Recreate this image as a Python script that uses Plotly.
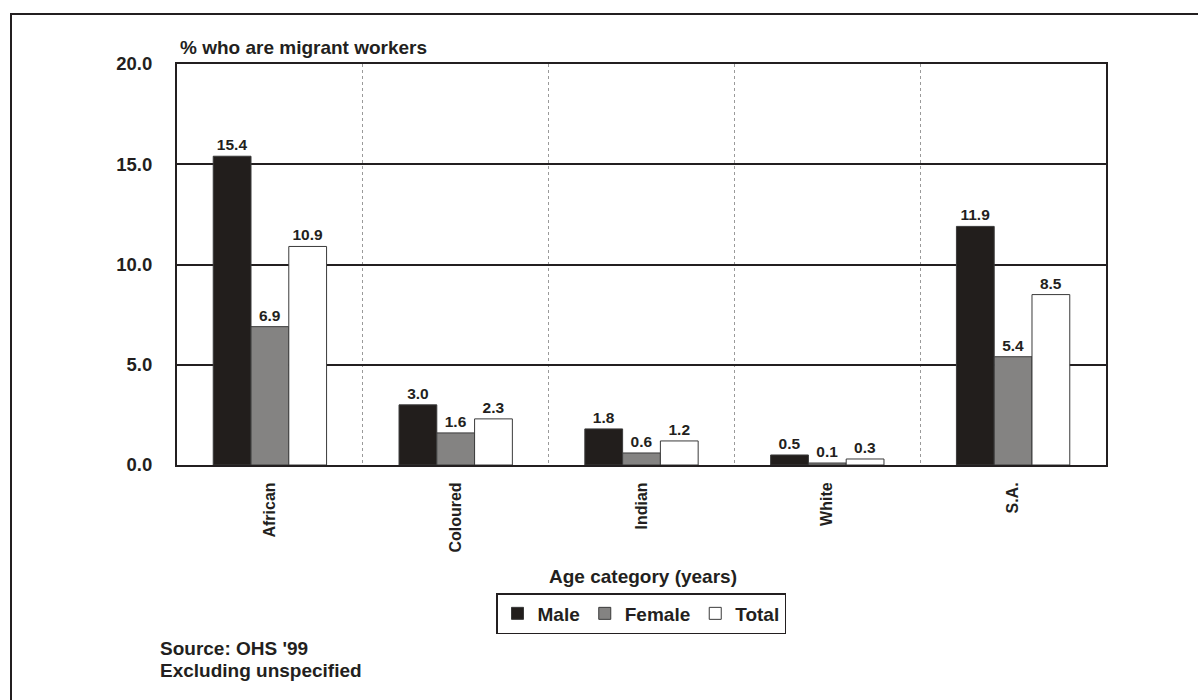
import plotly.graph_objects as go

# Population groups and share of each that are migrant workers (%)
groups = ["African", "Coloured", "Indian", "White", "S.A."]
male = [15.4, 3.0, 1.8, 0.5, 11.9]
female = [6.9, 1.6, 0.6, 0.1, 5.4]
total = [10.9, 2.3, 1.2, 0.3, 8.5]
y_ticks = [0, 5, 10, 15, 20]

FONT = "Liberation Sans, Arial, sans-serif"
INK = "#231f20"

W, H = 1198, 700
L, R, T, B = 177, 92, 64, 235
PW, PH = W - L - R, H - T - B


def px_x(px):
    return (px - L) / PW


def px_y(py):
    return (H - B - py) / PH


series = [
    ("Male", male, "#221e1c"),
    ("Female", female, "#848382"),
    ("Total", total, "#ffffff"),
]

fig = go.Figure()
for name, vals, color in series:
    fig.add_trace(go.Bar(
        name=name,
        x=groups,
        y=vals,
        marker=dict(color=color, line=dict(color="#3a3a3a", width=1)),
        text=[f"{v:.1f}" for v in vals],
        textposition="outside",
        textfont=dict(family=FONT, size=15.5, color=INK, weight="bold"),
        cliponaxis=False,
    ))

fig.update_layout(
    width=W, height=H, autosize=False,
    margin=dict(l=L, r=R, t=T, b=B, pad=0),
    paper_bgcolor="white", plot_bgcolor="white",
    barmode="group", bargap=0.39, bargroupgap=0,
    font=dict(family=FONT, color=INK, weight="bold"),
    showlegend=True,
    legend=dict(
        orientation="h",
        x=px_x(641), xanchor="center",
        y=px_y(593), yanchor="top",
        bordercolor=INK, borderwidth=1.5,
        bgcolor="white",
        font=dict(family=FONT, size=19, color=INK, weight="bold"),
        itemwidth=30,
        tracegroupgap=0,
    ),
)

fig.update_xaxes(
    type="category",
    tickangle=-90,
    tickfont=dict(family=FONT, size=16, color=INK, weight="bold"),
    ticks="",
    ticklabelstandoff=9,
    showline=True, linecolor=INK, linewidth=2, mirror=True,
    showgrid=True, tickson="boundaries",
    gridcolor="#9a9a9a", griddash="dot", gridwidth=1,
)

fig.update_yaxes(
    range=[0, 20],
    tickvals=y_ticks,
    ticktext=[f"{v:.1f}" for v in y_ticks],
    tickfont=dict(family=FONT, size=18.5, color=INK, weight="bold"),
    ticks="",
    ticklabelstandoff=19,
    showline=True, linecolor=INK, linewidth=2, mirror=True,
    showgrid=True, gridcolor=INK, gridwidth=2,
    zeroline=False,
)

# Axis captions and notes
notes = [
    ("% who are migrant workers", px_x(178), px_y(47), "left"),
    ("Age category (years)", px_x(643), px_y(576), "center"),
    ("Source: OHS '99", px_x(158), px_y(648), "left"),
    ("Excluding unspecified", px_x(158), px_y(670), "left"),
]
for text, x, y, anchor in notes:
    fig.add_annotation(
        text=text, x=x, y=y, xref="paper", yref="paper",
        xanchor=anchor, yanchor="middle", showarrow=False,
        font=dict(family=FONT, size=19, color=INK, weight="bold"),
    )

# Frame around the whole chart
fig.add_shape(
    type="rect", xref="paper", yref="paper",
    x0=px_x(11), x1=px_x(1230), y0=px_y(14), y1=px_y(730),
    line=dict(color=INK, width=2), fillcolor="rgba(0,0,0,0)", layer="below",
)

fig.write_html("out.html")
